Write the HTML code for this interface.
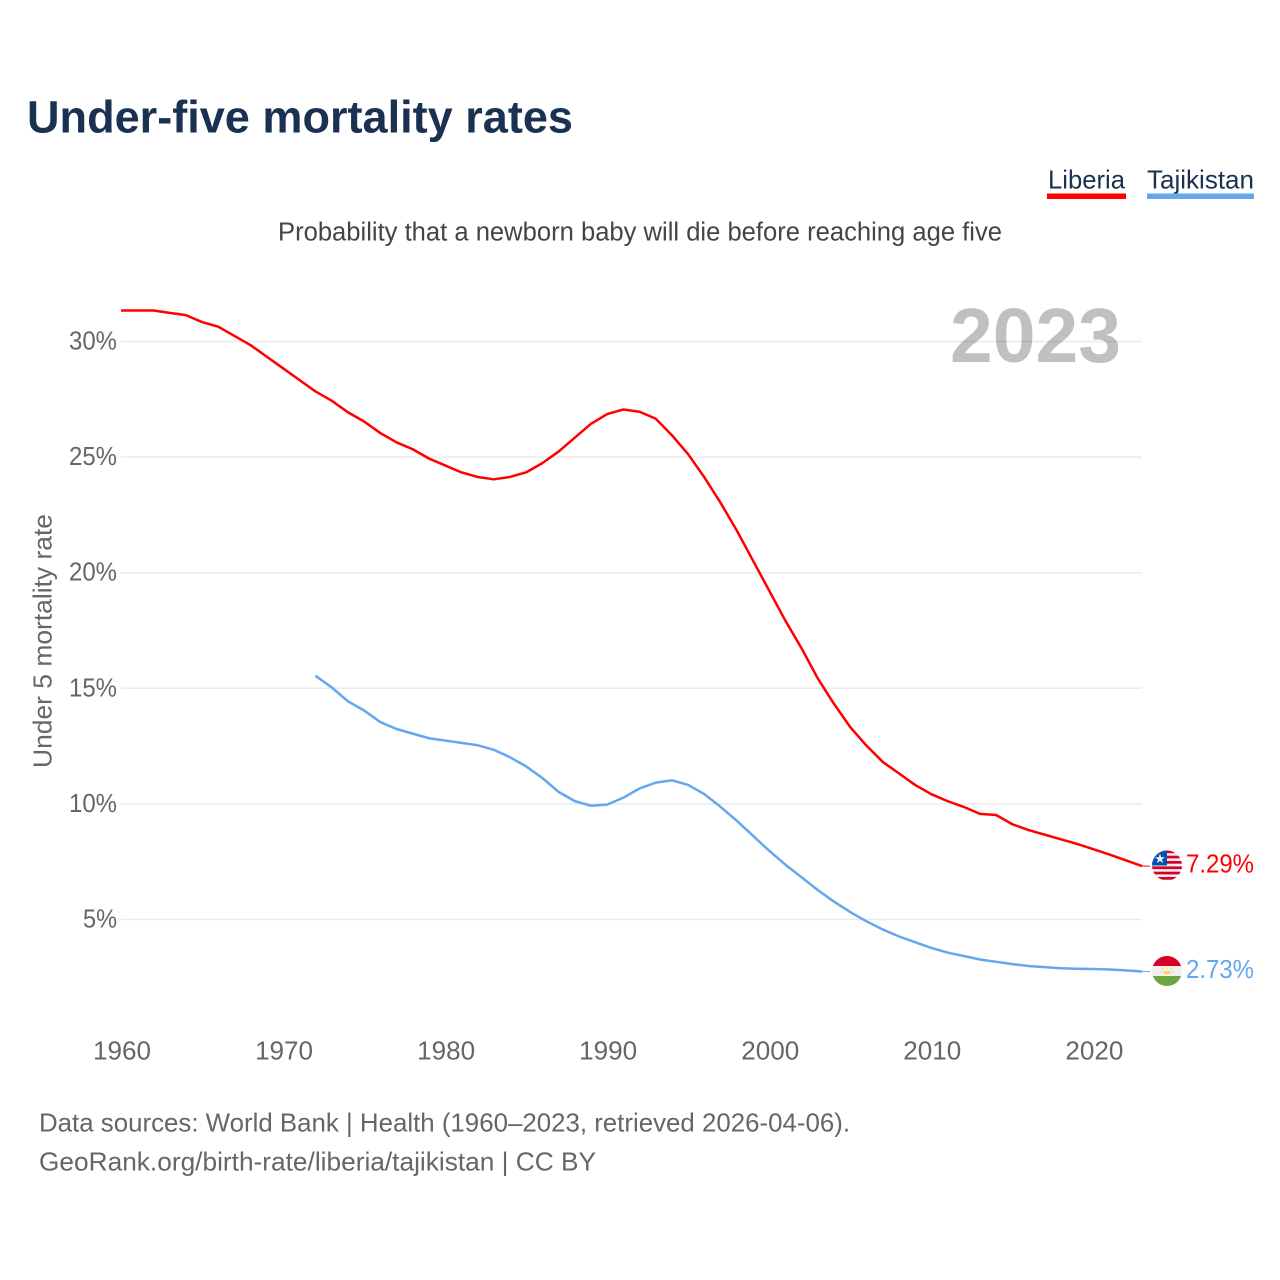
<!DOCTYPE html>
<html lang="en">
<head>
<meta charset="utf-8">
<title>Under-five mortality rates</title>
<style>
html,body{margin:0;padding:0;background:#fff;width:1280px;height:1280px;overflow:hidden}
svg{display:block}
text{font-family:"Liberation Sans",sans-serif}
</style>
</head>
<body>
<svg id="chart" xmlns="http://www.w3.org/2000/svg" width="1280" height="1280" viewBox="0 0 1280 1280">
  <defs>
    <clipPath id="clip-lr"><circle cx="1167" cy="865.5" r="15"/></clipPath>
    <clipPath id="clip-tj"><circle cx="1167" cy="971" r="15"/></clipPath>
  </defs>
  <text x="27" y="132.5" font-size="45" font-weight="700" fill="#1a3152" textLength="546" lengthAdjust="spacingAndGlyphs">Under-five mortality rates</text>
  <g>
    <g>
      <text x="1048" y="188.5" font-size="26" fill="#1a3152" textLength="77" lengthAdjust="spacingAndGlyphs">Liberia</text>
      <rect x="1047" y="193.5" width="79" height="5.5" fill="#ff0000"/>
    </g>
    <g>
      <text x="1147" y="188.5" font-size="26" fill="#1a3152" textLength="107" lengthAdjust="spacingAndGlyphs">Tajikistan</text>
      <rect x="1147" y="193.5" width="107" height="5.5" fill="#63a8ee"/>
    </g>
  </g>
  <text x="278" y="240.5" font-size="25.5" fill="#444444" textLength="724" lengthAdjust="spacingAndGlyphs">Probability that a newborn baby will die before reaching age five</text>
  <text x="950" y="362" font-size="77" font-weight="700" fill="#c0c0c0" textLength="171" lengthAdjust="spacingAndGlyphs">2023</text>
  <g id="grid"></g>
  <g id="y-ticks"></g>
  <g id="x-ticks"></g>
  <text transform="translate(51.5,768) rotate(-90)" x="0" y="0" font-size="26" fill="#666666" textLength="254" lengthAdjust="spacingAndGlyphs">Under 5 mortality rate</text>
  <g id="series"></g>
  <g clip-path="url(#clip-lr)">
    <rect x="1152" y="850" width="30" height="31" fill="#f0f0f0"/>
    <rect x="1152" y="850.5" width="30" height="2.7" fill="#d80027"/>
    <rect x="1152" y="855.7" width="30" height="2.7" fill="#d80027"/>
    <rect x="1152" y="861" width="30" height="2.7" fill="#d80027"/>
    <rect x="1152" y="866.4" width="30" height="2.7" fill="#d80027"/>
    <rect x="1152" y="871.7" width="30" height="2.7" fill="#d80027"/>
    <rect x="1152" y="877" width="30" height="2.7" fill="#d80027"/>
    <rect x="1152" y="850" width="15" height="15.5" fill="#0052b4"/>
    <text x="1160" y="863" font-size="13" fill="#f0f0f0" text-anchor="middle">★</text>
  </g>
  <g clip-path="url(#clip-tj)">
    <rect x="1152" y="956" width="30" height="10.5" fill="#d80027"/>
    <rect x="1152" y="966" width="30" height="10" fill="#f0f0f0"/>
    <rect x="1152" y="976" width="30" height="10" fill="#6da544"/>
    <rect x="1163.5" y="971" width="7" height="3" fill="#ffda44"/>
    <circle cx="1161" cy="972" r="0.8" fill="#ffda44"/>
    <circle cx="1162.5" cy="969" r="0.8" fill="#ffda44"/>
    <circle cx="1167" cy="968" r="0.8" fill="#ffda44"/>
    <circle cx="1171.5" cy="969" r="0.8" fill="#ffda44"/>
    <circle cx="1173" cy="972" r="0.8" fill="#ffda44"/>
  </g>
  <text x="1186" y="872.5" font-size="26" fill="#ff0000" textLength="68" lengthAdjust="spacingAndGlyphs">7.29%</text>
  <text x="1186" y="978" font-size="26" fill="#63a8ee" textLength="68" lengthAdjust="spacingAndGlyphs">2.73%</text>
  <text x="39" y="1131.5" font-size="26" fill="#666666" textLength="811" lengthAdjust="spacingAndGlyphs">Data sources: World Bank | Health (1960–2023, retrieved 2026-04-06).</text>
  <text x="39" y="1170.5" font-size="26" fill="#666666" textLength="557" lengthAdjust="spacingAndGlyphs">GeoRank.org/birth-rate/liberia/tajikistan | CC BY</text>
</svg>
<script>
const yTickValues = [30, 25, 20, 15, 10, 5];
const xTickValues = [1960, 1970, 1980, 1990, 2000, 2010, 2020];
const liberiaStartYear = 1960;
const liberiaValues = [31.34,31.34,31.34,31.24,31.14,30.84,30.64,30.24,29.84,29.34,28.84,28.34,27.84,27.44,26.94,26.54,26.04,25.64,25.34,24.94,24.64,24.34,24.14,24.04,24.14,24.34,24.74,25.24,25.84,26.44,26.86,27.06,26.96,26.66,25.94,25.12,24.12,23.02,21.82,20.52,19.22,17.92,16.72,15.42,14.32,13.32,12.52,11.82,11.32,10.82,10.42,10.12,9.87,9.57,9.52,9.12,8.87,8.67,8.47,8.27,8.04,7.81,7.56,7.31];
const tajikistanStartYear = 1972;
const tajikistanValues = [15.54,15.04,14.44,14.04,13.54,13.24,13.04,12.84,12.74,12.64,12.54,12.34,12.02,11.62,11.12,10.52,10.12,9.92,9.97,10.27,10.67,10.92,11.02,10.82,10.42,9.87,9.27,8.62,7.97,7.37,6.82,6.27,5.77,5.32,4.92,4.57,4.27,4.02,3.77,3.57,3.42,3.27,3.17,3.07,2.99,2.94,2.89,2.87,2.86,2.84,2.80,2.75];

const NS = 'http://www.w3.org/2000/svg';
function xScale(year) { return 121 + (year - 1960) * (1142 - 121) / 63; }
function yScale(v) { return 919.5 - (v - 5) * (919.5 - 341.5) / 25; }

const grid = document.getElementById('grid');
const yTicks = document.getElementById('y-ticks');
yTickValues.forEach(function (v) {
  const line = document.createElementNS(NS, 'line');
  
  
  line.setAttribute('x1', 121);
  line.setAttribute('x2', 1142);
  line.setAttribute('y1', yScale(v));
  line.setAttribute('y2', yScale(v));
  line.setAttribute('stroke', '#000000');
  line.setAttribute('stroke-opacity', 0.08);
  line.setAttribute('stroke-width', 1.5);
  grid.appendChild(line);
  const t = document.createElementNS(NS, 'text');
  
  
  t.setAttribute('x', 117);
  t.setAttribute('y', yScale(v) + 8);
  t.setAttribute('font-size', 25.5);
  t.setAttribute('fill', '#666666');
  t.setAttribute('text-anchor', 'end');
  t.setAttribute('textLength', v >= 10 ? 48 : 34);
  t.setAttribute('lengthAdjust', 'spacingAndGlyphs');
  t.textContent = v + '%';
  yTicks.appendChild(t);
});

const xTicks = document.getElementById('x-ticks');
xTickValues.forEach(function (y) {
  const t = document.createElementNS(NS, 'text');
  
  
  t.setAttribute('x', xScale(y) + 1);
  t.setAttribute('y', 1059.5);
  t.setAttribute('font-size', 25.5);
  t.setAttribute('fill', '#666666');
  t.setAttribute('text-anchor', 'middle');
  t.setAttribute('textLength', 58);
  t.setAttribute('lengthAdjust', 'spacingAndGlyphs');
  t.textContent = y;
  xTicks.appendChild(t);
});

function linePath(start, values) {
  return values.map(function (v, i) {
    return (i ? 'L' : 'M') + xScale(start + i).toFixed(2) + ' ' + yScale(v).toFixed(2);
  }).join(' ');
}
function tailPath(start, values) {
  const last = values.length - 1;
  return 'M' + xScale(start + last).toFixed(2) + ' ' + yScale(values[last]).toFixed(2) + ' H1150';
}
const seriesGroup = document.getElementById('series');

const liberiaLine = document.createElementNS(NS, 'path');


liberiaLine.setAttribute('d', linePath(liberiaStartYear, liberiaValues));
liberiaLine.setAttribute('fill', 'none');
liberiaLine.setAttribute('stroke', '#ff0000');
liberiaLine.setAttribute('stroke-width', 2.5);
liberiaLine.setAttribute('stroke-linejoin', 'round');
seriesGroup.appendChild(liberiaLine);

const liberiaTail = document.createElementNS(NS, 'path');


liberiaTail.setAttribute('d', tailPath(liberiaStartYear, liberiaValues));
liberiaTail.setAttribute('fill', 'none');
liberiaTail.setAttribute('stroke', '#ff0000');
liberiaTail.setAttribute('stroke-width', 1);
seriesGroup.appendChild(liberiaTail);

const tajikistanLine = document.createElementNS(NS, 'path');


tajikistanLine.setAttribute('d', linePath(tajikistanStartYear, tajikistanValues));
tajikistanLine.setAttribute('fill', 'none');
tajikistanLine.setAttribute('stroke', '#63a8ee');
tajikistanLine.setAttribute('stroke-width', 2.5);
tajikistanLine.setAttribute('stroke-linejoin', 'round');
seriesGroup.appendChild(tajikistanLine);

const tajikistanTail = document.createElementNS(NS, 'path');


tajikistanTail.setAttribute('d', tailPath(tajikistanStartYear, tajikistanValues));
tajikistanTail.setAttribute('fill', 'none');
tajikistanTail.setAttribute('stroke', '#63a8ee');
tajikistanTail.setAttribute('stroke-width', 1);
seriesGroup.appendChild(tajikistanTail);
</script>
</body>
</html>
